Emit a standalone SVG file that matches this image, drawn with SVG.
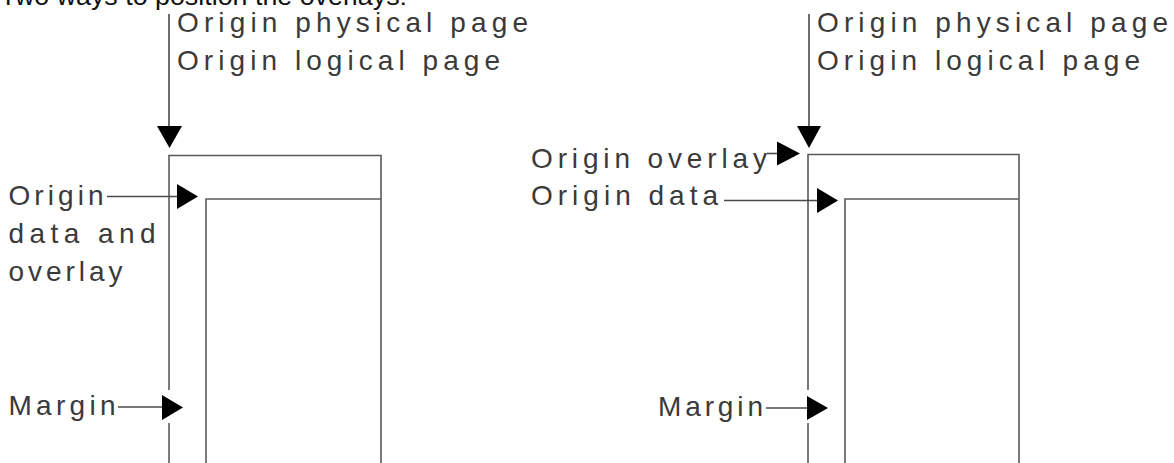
<svg xmlns="http://www.w3.org/2000/svg" width="1174" height="463" viewBox="0 0 1174 463">
  <style>
    .t { font-family: "Liberation Sans", Arial, sans-serif; font-size: 28px; fill: #3a3a3a; }
    .title { font-family: "Liberation Sans", Arial, sans-serif; font-size: 26px; fill: #111; }
    .pg { fill: none; stroke: #5a5a5a; stroke-width: 1.6; }
    .ln { fill: none; stroke: #4a4a4a; stroke-width: 1.6; }
    .ah { fill: #000; stroke: none; }
  </style>
  <rect width="1174" height="463" fill="#fff"/>
  <text class="title" x="0" y="5" textLength="407" lengthAdjust="spacingAndGlyphs">Two ways to position the overlays:</text>

  <g id="left-page">
    <polyline class="pg" points="169,390 169,155.5 381,155.5 381,463"/>
    <line class="pg" x1="169" y1="423" x2="169" y2="463"/>
    <polyline class="pg" points="206,463 206,199 381,199"/>
  </g>
  <g id="right-page">
    <polyline class="pg" points="808,390 808,154.5 1019,154.5 1019,463"/>
    <line class="pg" x1="808" y1="423" x2="808" y2="463"/>
    <polyline class="pg" points="845,463 845,199 1019,199"/>
  </g>

  <g id="left-labels">
    <text class="t" x="177" y="32" textLength="351" lengthAdjust="spacing">Origin physical page</text>
    <text class="t" x="177" y="70" textLength="323" lengthAdjust="spacing">Origin logical page</text>
    <text class="t" x="8.5" y="205" textLength="95" lengthAdjust="spacing">Origin</text>
    <text class="t" x="8.5" y="243" textLength="147" lengthAdjust="spacing">data and</text>
    <text class="t" x="8.5" y="281" textLength="114" lengthAdjust="spacing">overlay</text>
    <text class="t" x="8.5" y="415" textLength="107" lengthAdjust="spacing">Margin</text>
  </g>
  <g id="right-labels">
    <text class="t" x="817" y="32" textLength="351" lengthAdjust="spacing">Origin physical page</text>
    <text class="t" x="817" y="70" textLength="323" lengthAdjust="spacing">Origin logical page</text>
    <text class="t" x="531" y="168" textLength="236" lengthAdjust="spacing">Origin overlay</text>
    <text class="t" x="531" y="205" textLength="187" lengthAdjust="spacing">Origin data</text>
    <text class="t" x="658" y="416" textLength="105" lengthAdjust="spacing">Margin</text>
  </g>

  <g id="connectors">
    <line class="ln" x1="169" y1="14" x2="169" y2="128"/>
    <polygon class="ah" points="157,126 182,126 169.5,148"/>
    <line class="ln" x1="107" y1="196.5" x2="179" y2="196.5"/>
    <polygon class="ah" points="177,184 177,209 198,196.5"/>
    <line class="ln" x1="118" y1="407" x2="164" y2="407"/>
    <polygon class="ah" points="162,395 162,420 183,407.5"/>

    <line class="ln" x1="809" y1="14" x2="809" y2="128"/>
    <polygon class="ah" points="797,126 821,126 809,148"/>
    <line class="ln" x1="767" y1="153.5" x2="779" y2="153.5"/>
    <polygon class="ah" points="777,141.5 777,165.5 800,153.5"/>
    <line class="ln" x1="724" y1="200.5" x2="819" y2="200.5"/>
    <polygon class="ah" points="817,188 817,213 838,200.5"/>
    <line class="ln" x1="766" y1="408" x2="809" y2="408"/>
    <polygon class="ah" points="807,396 807,420 828,408"/>
  </g>
</svg>
